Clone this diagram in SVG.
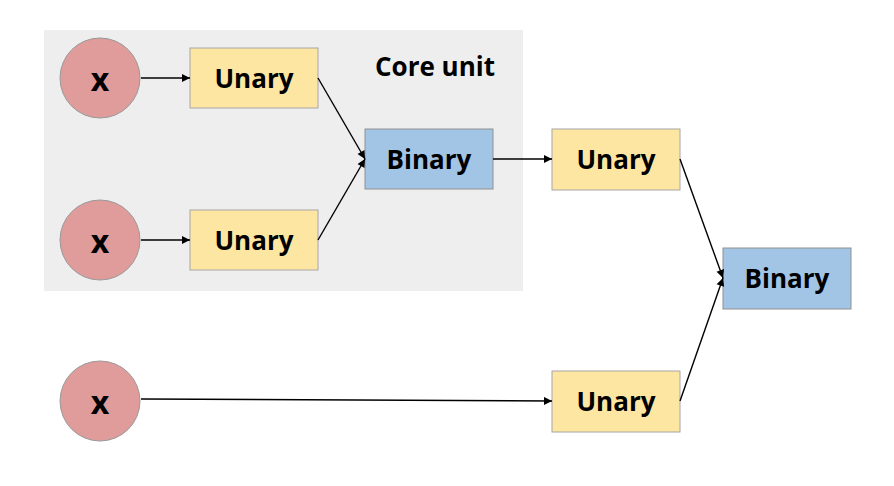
<svg xmlns="http://www.w3.org/2000/svg" width="894" height="486" viewBox="0 0 894 486">
<defs>
<marker id="ah" viewBox="0 0 10 10" refX="10" refY="5" markerWidth="10" markerHeight="8" markerUnits="userSpaceOnUse" orient="auto">
<path d="M0,0 L10,5 L0,10 z" fill="#000"/>
</marker>
<style>
.lbl{font-family:"Open Sans","Noto Sans",sans-serif;font-weight:bold;font-size:26px;fill:#000;text-anchor:middle;dominant-baseline:central}
.xl{font-size:32px}
.circ{fill:#e09b9b;stroke:#999;stroke-width:1}
.un{fill:#fde5a2;stroke:#a6a6a6;stroke-width:1}
.bi{fill:#a3c5e5;stroke:#909090;stroke-width:1}
.edge{stroke:#000;stroke-width:1.4;fill:none;marker-end:url(#ah)}
</style>
</defs>
<rect width="894" height="486" fill="#fff"/>
<g id="core-unit">
<rect x="44" y="30" width="479" height="261" fill="#eeeeee"/>
<text class="lbl" x="435" y="66">Core unit</text>
</g>
<g id="x1"><circle class="circ" cx="100" cy="78" r="40"/><text class="lbl xl" x="100" y="78">x</text></g>
<g id="x2"><circle class="circ" cx="100" cy="240" r="40"/><text class="lbl xl" x="100" y="240">x</text></g>
<g id="x3"><circle class="circ" cx="100" cy="401" r="40"/><text class="lbl xl" x="100" y="401">x</text></g>
<g id="unary1"><rect class="un" x="190" y="48" width="128" height="60"/><text class="lbl" x="254" y="78">Unary</text></g>
<g id="unary2"><rect class="un" x="190" y="210" width="128" height="60"/><text class="lbl" x="254" y="240">Unary</text></g>
<g id="binary1"><rect class="bi" x="365" y="129" width="128" height="60"/><text class="lbl" x="429" y="159">Binary</text></g>
<g id="unary3"><rect class="un" x="552" y="129" width="128" height="61"/><text class="lbl" x="616" y="159">Unary</text></g>
<g id="unary4"><rect class="un" x="552" y="371" width="128" height="61"/><text class="lbl" x="616" y="401">Unary</text></g>
<g id="binary2"><rect class="bi" x="723" y="248" width="128" height="61"/><text class="lbl" x="787" y="278">Binary</text></g>
<g id="connectors">
<line class="edge" x1="141" y1="78" x2="190" y2="78"/>
<line class="edge" x1="141" y1="240" x2="190" y2="240"/>
<line class="edge" x1="318" y1="78" x2="365" y2="159"/>
<line class="edge" x1="318" y1="240" x2="365" y2="159"/>
<line class="edge" x1="493" y1="159" x2="552" y2="159"/>
<line class="edge" x1="680" y1="159" x2="723" y2="278"/>
<line class="edge" x1="680" y1="401" x2="723" y2="278"/>
<line class="edge" x1="141" y1="399" x2="552" y2="401"/>
</g>
</svg>
